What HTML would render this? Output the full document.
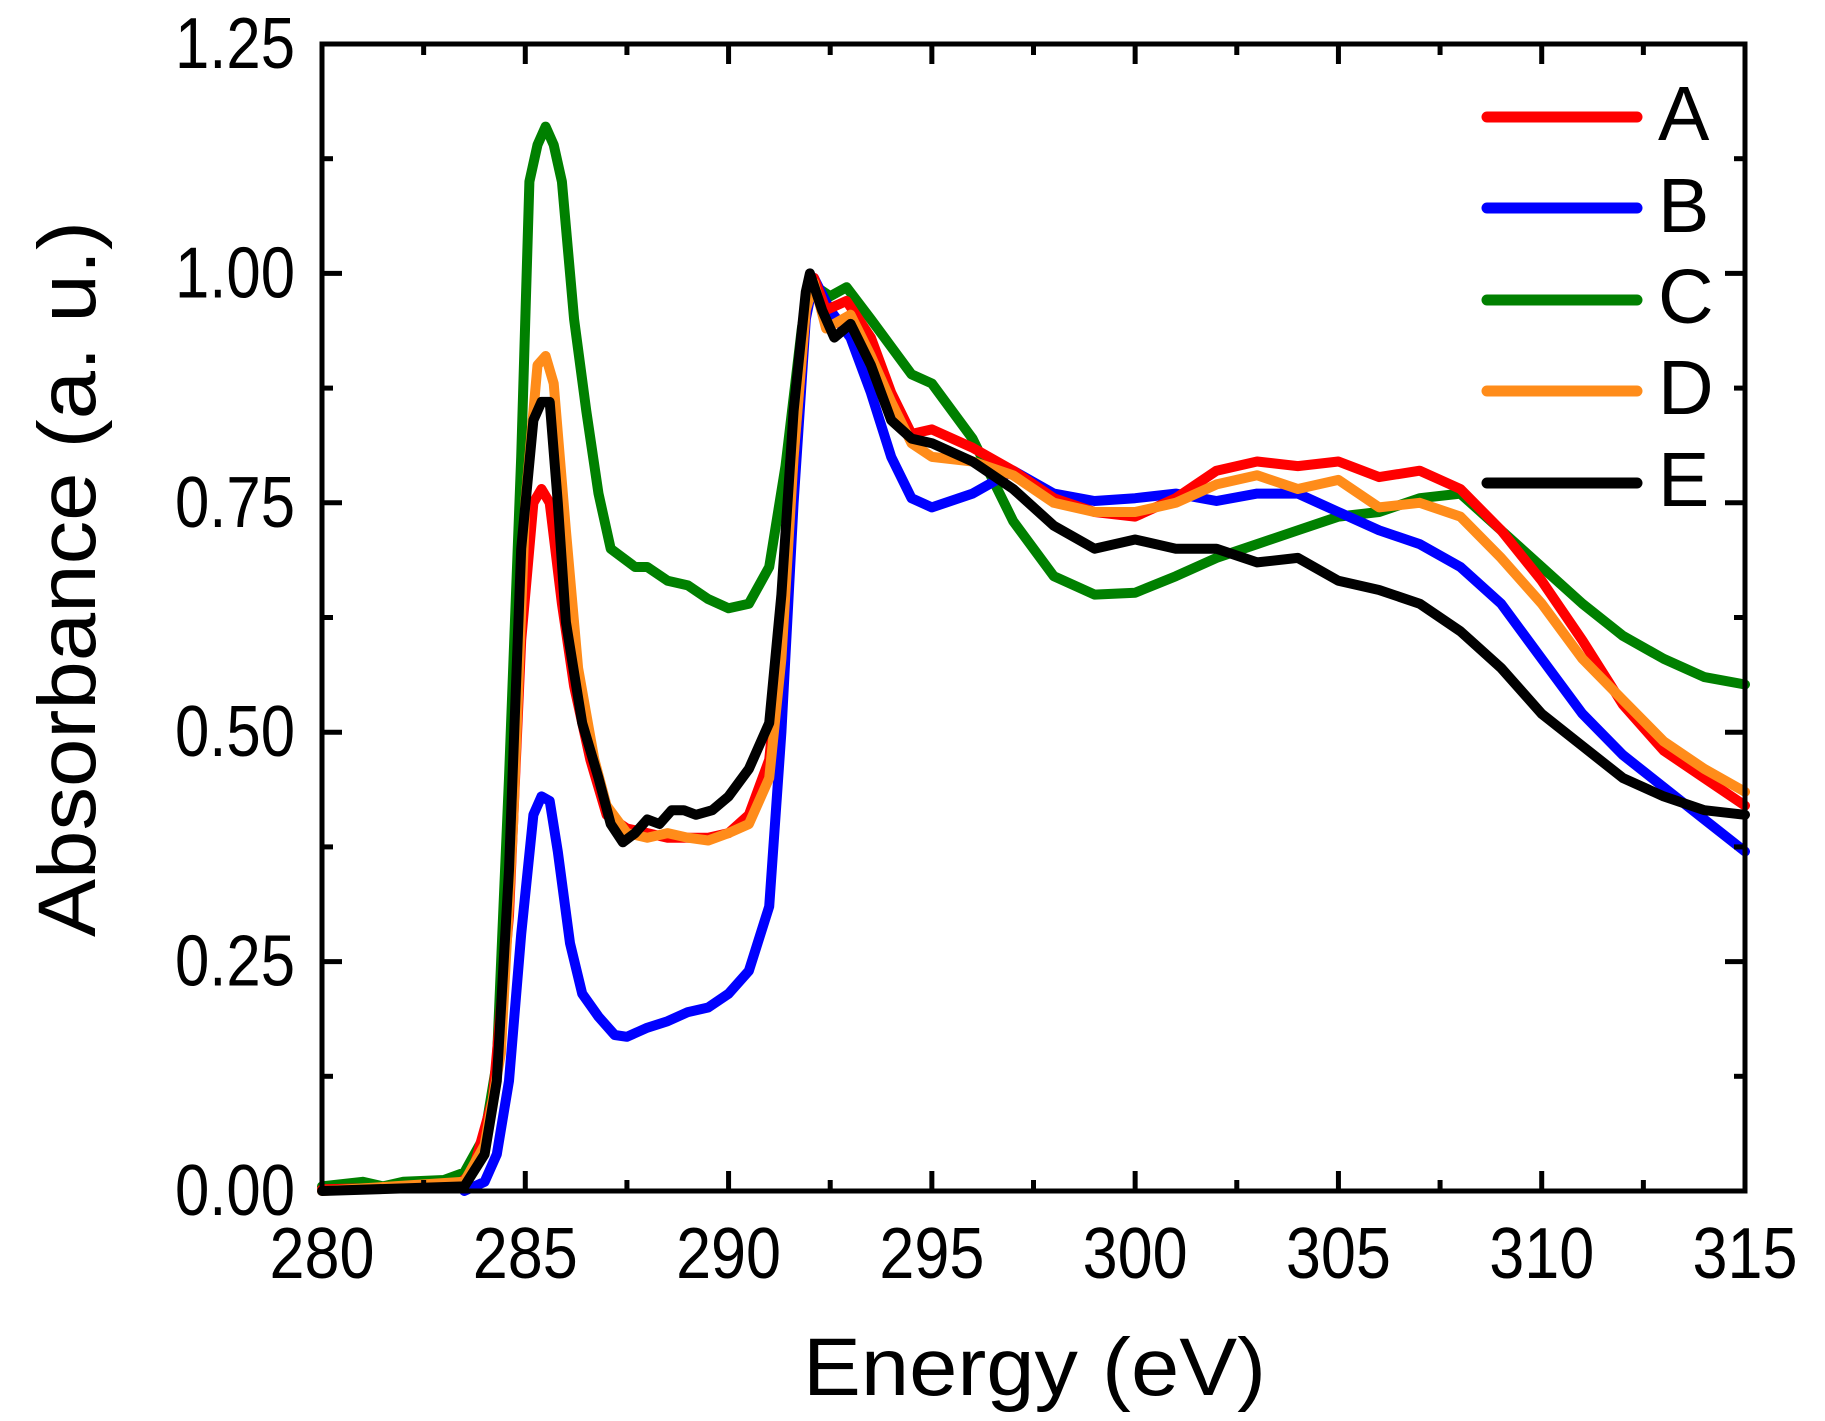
<!DOCTYPE html>
<html><head><meta charset="utf-8"><style>html,body{margin:0;padding:0;background:#fff}svg{display:block}</style></head>
<body>
<svg id="s" width="1825" height="1421" xmlns="http://www.w3.org/2000/svg" font-family="Liberation Sans, sans-serif">
<g id="curves" fill="none" stroke-width="10" stroke-linejoin="round" stroke-linecap="round"></g>
<g id="axes" stroke="#000" stroke-width="5" fill="none"></g>
<g id="labels" fill="#000"></g>
<g stroke-width="11" stroke-linecap="round">
<line x1="1487" y1="117" x2="1637" y2="117" stroke="#ff0000"/>
<line x1="1487" y1="208" x2="1637" y2="208" stroke="#0000ff"/>
<line x1="1487" y1="300" x2="1637" y2="300" stroke="#008000"/>
<line x1="1487" y1="391" x2="1637" y2="391" stroke="#ff8c1a"/>
<line x1="1487" y1="483" x2="1637" y2="483" stroke="#000000"/>
</g>
<g font-size="77" fill="#000">
<text x="1658" y="140">A</text><text x="1658" y="232">B</text><text x="1658" y="323">C</text><text x="1658" y="414">D</text><text x="1658" y="506">E</text>
</g>
<text x="803" y="1395" font-size="82" textLength="463" lengthAdjust="spacingAndGlyphs">Energy (eV)</text>
<text transform="translate(95,937) rotate(-90)" font-size="82" textLength="716" lengthAdjust="spacingAndGlyphs">Absorbance (a. u.)</text>
</svg>
<script>
var X0=322,X1=1745,Y0=1191,Y1=44;
function X(e){return X0+(e-280)*(X1-X0)/35}
function Y(v){return Y0-v*(Y0-Y1)/1.25}
var D={
"#008000":[280,0.005,281,0.01,281.5,0.005,282,0.01,283,0.012,283.5,0.02,284,0.06,284.3,0.14,284.6,0.45,284.9,0.8,285.1,1.1,285.3,1.14,285.5,1.16,285.7,1.14,285.9,1.1,286.2,0.95,286.5,0.85,286.8,0.76,287.1,0.70,287.4,0.69,287.7,0.68,288,0.68,288.5,0.665,289,0.66,289.5,0.645,290,0.635,290.5,0.64,291,0.68,291.4,0.79,291.8,0.94,292,0.99,292.5,0.975,292.9,0.985,293.5,0.95,294,0.92,294.5,0.89,295,0.88,296,0.82,297,0.73,298,0.67,299,0.65,300,0.652,301,0.67,302,0.69,303,0.705,304,0.72,305,0.735,306,0.74,307,0.755,308,0.76,309,0.72,310,0.68,311,0.64,312,0.605,313,0.58,314,0.56,315,0.552],
"#0000ff":[283.5,0,284,0.01,284.3,0.04,284.6,0.12,284.9,0.28,285.2,0.41,285.4,0.43,285.6,0.425,285.8,0.37,286.1,0.27,286.4,0.215,286.8,0.19,287.2,0.17,287.5,0.168,288,0.178,288.5,0.185,289,0.195,289.5,0.2,290,0.215,290.5,0.24,291,0.31,291.3,0.5,291.6,0.75,291.9,0.95,292.1,0.995,292.5,0.96,293,0.93,293.5,0.87,294,0.8,294.5,0.755,295,0.745,296,0.76,297,0.785,298,0.76,299,0.752,300,0.755,301,0.76,302,0.752,303,0.76,304,0.76,305,0.74,306,0.72,307,0.705,308,0.68,309,0.64,310,0.58,311,0.52,312,0.475,313,0.44,314,0.405,315,0.37],
"#ff0000":[280,0.002,283.3,0.005,283.7,0.02,284.2,0.1,284.6,0.3,284.9,0.6,285.2,0.75,285.4,0.765,285.6,0.75,285.9,0.64,286.2,0.55,286.6,0.47,287,0.41,287.5,0.395,288,0.39,288.5,0.385,289,0.385,289.5,0.385,290,0.39,290.5,0.41,291,0.47,291.3,0.6,291.6,0.8,291.9,0.96,292.1,0.995,292.4,0.96,292.9,0.97,293.5,0.93,294,0.87,294.5,0.825,295,0.83,296,0.81,297,0.785,298,0.755,299,0.74,300,0.735,301,0.755,302,0.785,303,0.795,304,0.79,305,0.795,306,0.778,307,0.785,308,0.765,309,0.72,310,0.665,311,0.6,312,0.53,313,0.48,314,0.45,315,0.42],
"#ff8c1a":[280,0.0,283.5,0.01,284,0.05,284.4,0.15,284.7,0.4,285,0.75,285.3,0.9,285.5,0.91,285.7,0.88,286,0.72,286.3,0.57,286.7,0.47,287,0.42,287.5,0.39,288,0.385,288.5,0.39,289,0.385,289.5,0.382,290,0.39,290.5,0.4,291,0.45,291.3,0.58,291.6,0.8,291.9,0.96,292.1,0.99,292.4,0.94,293,0.955,293.5,0.91,294,0.86,294.5,0.815,295,0.8,296,0.795,297,0.78,298,0.75,299,0.74,300,0.74,301,0.75,302,0.77,303,0.78,304,0.765,305,0.775,306,0.745,307,0.75,308,0.735,309,0.69,310,0.64,311,0.58,312,0.535,313,0.49,314,0.46,315,0.435],
"#000000":[280,0,283.5,0.005,284,0.04,284.3,0.12,284.6,0.35,284.9,0.7,285.2,0.84,285.4,0.86,285.6,0.86,285.8,0.75,286,0.62,286.4,0.51,286.8,0.45,287.1,0.4,287.4,0.38,287.7,0.39,288,0.405,288.3,0.4,288.6,0.415,288.9,0.415,289.2,0.41,289.6,0.415,290,0.43,290.5,0.46,291,0.51,291.3,0.65,291.6,0.85,291.9,0.98,292,1.0,292.3,0.96,292.6,0.93,293,0.945,293.5,0.9,294,0.84,294.5,0.82,295,0.815,296,0.795,297,0.765,298,0.725,299,0.7,300,0.71,301,0.7,302,0.7,303,0.685,304,0.69,305,0.665,306,0.655,307,0.64,308,0.61,309,0.57,310,0.52,311,0.485,312,0.45,313,0.43,314,0.415,315,0.41]};
var NS="http://www.w3.org/2000/svg",g=document.getElementById("curves"),ax=document.getElementById("axes"),lb=document.getElementById("labels");
function el(p,t,a,txt){var e=document.createElementNS(NS,t);for(var k in a)e.setAttribute(k,a[k]);if(txt)e.textContent=txt;p.appendChild(e);return e}
for(var c in D){var d=D[c],pts=[];for(var i=0;i<d.length;i+=2)pts.push(X(d[i]).toFixed(1)+","+Y(d[i+1]).toFixed(1));el(g,"polyline",{points:pts.join(" "),stroke:c})}
el(ax,"rect",{x:X0,y:Y1,width:X1-X0,height:Y0-Y1});
for(var e=280;e<=315;e+=2.5){var x=X(e),L=(e%5==0)?20:11;
 el(ax,"line",{x1:x,y1:Y0,x2:x,y2:Y0-L});el(ax,"line",{x1:x,y1:Y1,x2:x,y2:Y1+L});
 if(e%5==0)el(lb,"text",{x:x,y:1278,"font-size":72,"text-anchor":"middle",textLength:105,lengthAdjust:"spacingAndGlyphs"},String(e));}
for(var v=0;v<=1.25001;v+=0.125){var y=Y(v),maj=Math.abs(v*4-Math.round(v*4))<1e-6,L=maj?20:11;
 el(ax,"line",{x1:X0,y1:y,x2:X0+L,y2:y});el(ax,"line",{x1:X1,y1:y,x2:X1-L,y2:y});
 if(maj)el(lb,"text",{x:295,y:y+24,"font-size":72,"text-anchor":"end",textLength:120,lengthAdjust:"spacingAndGlyphs"},v.toFixed(2));}
</script>
</body></html>
